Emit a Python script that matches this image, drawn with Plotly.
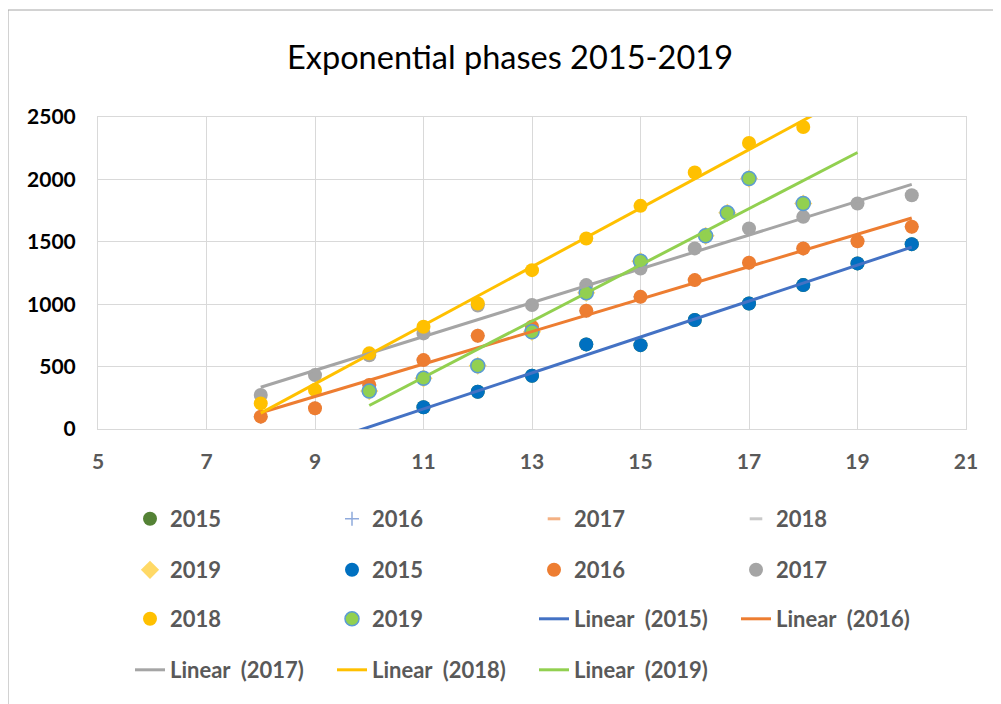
import numpy as np
import plotly.graph_objects as go

title_text = "Exponential phases 2015-2019"
years = ["2015", "2016", "2017", "2018", "2019"]

# series data (x = period, y = value); None = blank cell
x_2015 = [8, 9, 10, 11, 12, 13, 14, 15, 16, 17, 18, 19, 20]
y_2015 = [None, None, None, 174, 299, 427, 678, 672, 873, 1006, 1153, 1327, 1481]
x_2016 = [8, 9, 10, 11, 12, 13, 14, 15, 16, 17, 18, 19, 20]
y_2016 = [99, 166, 352, 552, 747, 819, 947, 1059, 1193, 1332, 1447, 1505, 1620]
x_2017 = [8, 9, 10, 11, 12, 13, 14, 15, 16, 17, 18, 19, 20]
y_2017 = [272, 432, 590, 766, 990, 993, 1153, 1286, 1447, 1607, 1700, 1807, 1873]
x_2018 = [8, 9, 10, 11, 12, 13, 14, 15, 16, 17, 18, 19, 20]
y_2018 = [205, 312, 606, 819, 1006, 1273, 1527, 1788, 2055, 2292, 2420, None, None]
x_2019 = [10, 11, 12, 13, 14, 15, 16.2, 16.6, 17, 18, 19]
y_2019 = [304, 406, 507, 779, 1091, 1345, 1548, 1732, 2007, 1807, None]

xs = [x_2015, x_2016, x_2017, x_2018, x_2019]
ys = [y_2015, y_2016, y_2017, y_2018, y_2019]

x_ticks = [5, 7, 9, 11, 13, 15, 17, 19, 21]
y_ticks = [0, 500, 1000, 1500, 2000, 2500]

# styles
set1_styles = [
    dict(symbol="circle", color="#548235", size=14),
    dict(symbol="cross-thin", color="#8FAADC", size=10, line=dict(color="#8FAADC", width=1.5)),
    dict(symbol="line-ew", color="#F4B183", size=9, line=dict(color="#F4B183", width=3)),
    dict(symbol="line-ew", color="#C9C9C9", size=9, line=dict(color="#C9C9C9", width=3)),
    dict(symbol="diamond", color="#FFD966", size=14),
]
set2_styles = [
    dict(symbol="circle", color="#0070C0", size=14),
    dict(symbol="circle", color="#ED7D31", size=14),
    dict(symbol="circle", color="#A5A5A5", size=14),
    dict(symbol="circle", color="#FFC000", size=14),
    dict(symbol="circle", color="#92D050", size=14, line=dict(color="#5B9BD5", width=1.5)),
]
trend_colors = ["#4472C4", "#ED7D31", "#A5A5A5", "#FFC000", "#92D050"]

FONT = "Lato"
TXT = "#595959"

traces = []
for i in range(5):
    traces.append(go.Scatter(x=xs[i], y=ys[i], mode="markers", name=years[i],
                             marker=set1_styles[i], cliponaxis=False))
for i in range(5):
    traces.append(go.Scatter(x=xs[i], y=ys[i], mode="markers", name=years[i],
                             marker=set2_styles[i], cliponaxis=False))
for i in range(5):
    xv = np.array([x for x, y in zip(xs[i], ys[i]) if y is not None], dtype=float)
    yv = np.array([y for y in ys[i] if y is not None], dtype=float)
    slope, intercept = np.polyfit(xv, yv, 1)
    tx = np.array([min(xs[i]), max(xs[i])], dtype=float)
    traces.append(go.Scatter(x=tx, y=slope * tx + intercept, mode="lines",
                             name="Linear\u00a0 (" + years[i] + ")",
                             line=dict(color=trend_colors[i], width=3)))

fig = go.Figure()
legend_ids = ["legend", "legend2", "legend3", "legend4"]
for k, tr in enumerate(traces):
    tr.legend = legend_ids[k // 4]
    fig.add_trace(tr)

W, H = 1001, 704
# page has an 8px body margin; figure coords = page coords - 8
L, R, T, B = 90, 43, 109, 283
pw, ph = W - L - R, H - T - B

row_centers = [511, 562, 611, 662]
leg_common = dict(orientation="h", xref="container", yref="container",
                  xanchor="left", yanchor="middle", entrywidth=157,
                  font=dict(family=FONT, size=22, color=TXT, weight="bold"),
                  bgcolor="rgba(0,0,0,0)", borderwidth=0, itemwidth=30,
                  traceorder="normal")
legends = {}
for j, lid in enumerate(legend_ids):
    d = dict(leg_common)
    d["x"] = 122 / W
    d["y"] = 1 - row_centers[j] / H
    legends[lid] = d

fig.update_layout(
    width=W, height=H,
    margin=dict(l=L, r=R, t=T, b=B),
    paper_bgcolor="white", plot_bgcolor="white",
    showlegend=True,
    title=dict(text=title_text, x=502 / W, xref="container", xanchor="center",
               y=1 - 50 / H, yref="container", yanchor="middle",
               font=dict(family=FONT, size=32.5, color="#000000")),
    xaxis=dict(range=[5, 21], tickvals=x_ticks, ticktext=[str(v) for v in x_ticks],
               showgrid=True, gridcolor="#D9D9D9", gridwidth=1,
               showline=True, linecolor="#D9D9D9", linewidth=1, mirror=True,
               zeroline=False, ticks="", ticklabelstandoff=14,
               tickfont=dict(family=FONT, size=21, color=TXT, weight="bold")),
    yaxis=dict(range=[0, 2500], tickvals=y_ticks, ticktext=[str(v) for v in y_ticks],
               showgrid=True, gridcolor="#D9D9D9", gridwidth=1,
               showline=True, linecolor="#D9D9D9", linewidth=1, mirror=True,
               zeroline=False, ticks="", ticklabelstandoff=17,
               tickfont=dict(family=FONT, size=21, color="#000000", weight="bold")),
    shapes=[dict(type="rect", xref="paper", yref="paper",
                 x0=(0 - L) / pw, x1=(1020 - L) / pw,
                 y0=(H - B - 2) / ph, y1=(H - B - 730) / ph,
                 line=dict(color="#A6A6A6", width=1), fillcolor="rgba(0,0,0,0)",
                 layer="below")],
    **legends,
)

fig.write_html("out.html")
